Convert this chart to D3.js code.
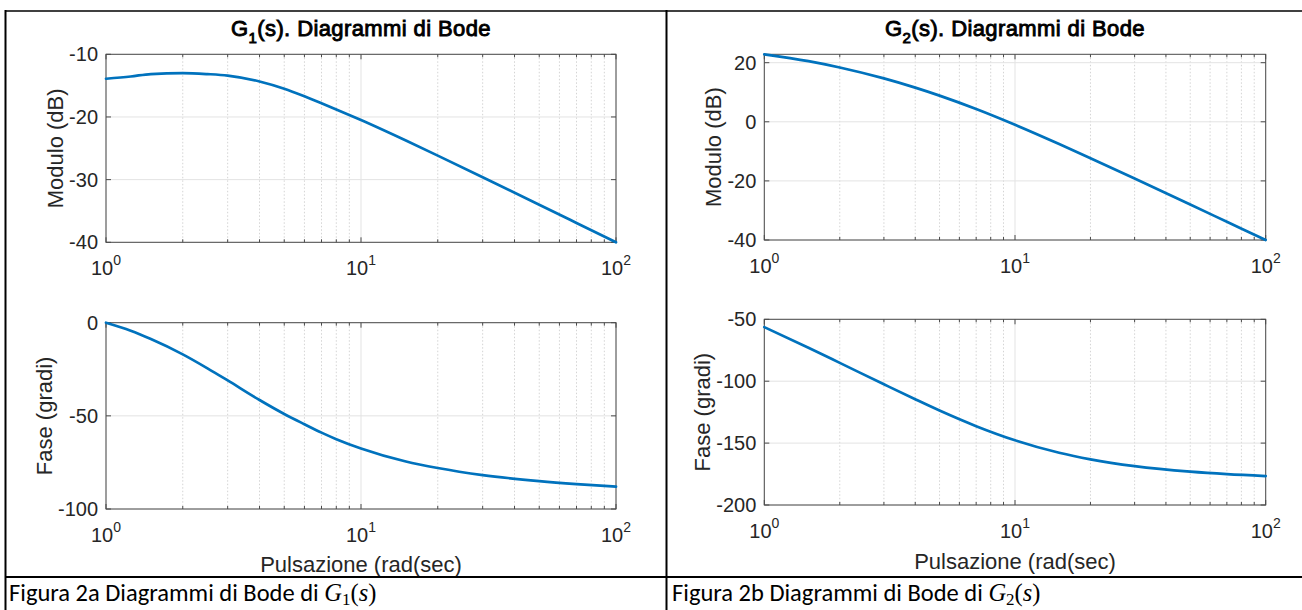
<!DOCTYPE html>
<html>
<head>
<meta charset="utf-8">
<script src="https://cdn.jsdelivr.net/npm/d3@7"></script>
<style>
  html, body { margin: 0; padding: 0; background: #ffffff; }
  svg { display: block; }
</style>
</head>
<body>
<svg id="chart" width="1302" height="610"></svg>
<script>
// ---------------- DATA ----------------
const freqG1  = [1, 1.25, 1.5, 2, 2.5, 3, 4, 5, 6, 7, 8, 10, 15, 20, 30, 50, 70, 100];
const magG1   = [-13.9, -13.54, -13.15, -13.0, -13.16, -13.4, -14.34, -15.5, -16.71, -17.82, -18.81, -20.5, -23.77, -26.17, -29.61, -34.0, -36.91, -40.0];
const phaseG1 = [0, -4.3, -8.8, -17, -24.5, -31, -41.5, -49, -54.5, -59, -62.5, -67.5, -74.5, -78, -81.8, -85, -86.6, -88];

const freqG2  = [1, 1.5, 2, 3, 4, 5, 7, 10, 15, 20, 30, 50, 70, 100];
const magG2   = [22.84, 20.53, 18.39, 14.69, 11.57, 8.86, 4.32, -1.01, -7.52, -12.32, -19.21, -28.0, -33.83, -40.01];
const phaseG2 = [-56.3, -73.0, -85.2, -102.5, -114.6, -123.7, -136.3, -147.7, -157.8, -163.1, -168.6, -173.1, -175.1, -176.6];

const xTickValues    = [1, 10, 100];
const xTickExponents = ["0", "1", "2"];
const magG1Ticks   = [-40, -30, -20, -10];
const phaseG1Ticks = [-100, -50, 0];
const magG2Ticks   = [-40, -20, 0, 20];
const phaseG2Ticks = [-200, -150, -100, -50];

const titleNames  = ["G", "G"];
const titleSubs   = ["1", "2"];
const titleRest   = "(s). Diagrammi di Bode";
const yLabelMag   = "Modulo (dB)";
const yLabelPhase = "Fase (gradi)";
const xLabelText  = "Pulsazione (rad(sec)";
const captionText = ["Figura 2a Diagrammi di Bode di ", "Figura 2b Diagrammi di Bode di "];

// ---------------- DRAWING ----------------
const svg = d3.select("#chart");
svg.append("rect").attr("width", 1302).attr("height", 610).attr("fill", "#fff");

const FONT = "'Liberation Sans', Arial, Helvetica, sans-serif";
const TXT = "#262626";
const BLUE = "#0072BD";

const panels = [
  {
    cx0: 106, cx1: 616, titleY: 36,
    freq: freqG1, mag: magG1, phase: phaseG1,
    magDomain: [-40, -10], magTicks: magG1Ticks, magTop: 54.3, magBot: 242.3,
    phDomain: [-100, 0], phTicks: phaseG1Ticks, phTop: 322.7, phBot: 509,
    xlabY: 572, idx: 0, capX: 9
  },
  {
    cx0: 764.3, cx1: 1265.7, titleY: 36,
    freq: freqG2, mag: magG2, phase: phaseG2,
    magDomain: [-40, 22.84], magTicks: magG2Ticks, magTop: 54.3, magBot: 240,
    phDomain: [-200, -50], phTicks: phaseG2Ticks, phTop: 319.3, phBot: 505,
    xlabY: 569, idx: 1, capX: 672
  }
];

function drawAxes(parent, x, y, top, bot, yTicks, freq, vals, ylabel, x0, x1) {
  const g = parent.append("g");
  const grid = g.append("g");
  const minors = [];
  [1, 10].forEach(d => { for (let k = 2; k <= 9; k++) minors.push(k * d); });
  grid.selectAll("line.minor").data(minors).enter().append("line")
    .attr("class", "minor")
    .attr("x1", d => x(d)).attr("x2", d => x(d))
    .attr("y1", top).attr("y2", bot)
    .attr("stroke", "#d4d4d4").attr("stroke-width", 1)
    .attr("stroke-dasharray", "1.5,2");
  grid.selectAll("line.major").data(xTickValues).enter().append("line")
    .attr("class", "major")
    .attr("x1", d => x(d)).attr("x2", d => x(d))
    .attr("y1", top).attr("y2", bot)
    .attr("stroke", "#e3e3e3").attr("stroke-width", 1);
  grid.selectAll("line.ygrid").data(yTicks).enter().append("line")
    .attr("class", "ygrid")
    .attr("x1", x0).attr("x2", x1)
    .attr("y1", d => y(d)).attr("y2", d => y(d))
    .attr("stroke", "#e3e3e3").attr("stroke-width", 1);

  g.append("rect").attr("x", x0).attr("y", top)
    .attr("width", x1 - x0).attr("height", bot - top)
    .attr("fill", "none").attr("stroke", "#4a4a4a").attr("stroke-width", 1);

  const tk = g.append("g").attr("stroke", "#4a4a4a").attr("stroke-width", 1);
  xTickValues.forEach(v => {
    tk.append("line").attr("x1", x(v)).attr("x2", x(v)).attr("y1", bot).attr("y2", bot - 5);
    tk.append("line").attr("x1", x(v)).attr("x2", x(v)).attr("y1", top).attr("y2", top + 5);
  });
  minors.forEach(v => {
    tk.append("line").attr("x1", x(v)).attr("x2", x(v)).attr("y1", bot).attr("y2", bot - 3);
    tk.append("line").attr("x1", x(v)).attr("x2", x(v)).attr("y1", top).attr("y2", top + 3);
  });
  yTicks.forEach(v => {
    tk.append("line").attr("x1", x0).attr("x2", x0 + 5).attr("y1", y(v)).attr("y2", y(v));
    tk.append("line").attr("x1", x1).attr("x2", x1 - 5).attr("y1", y(v)).attr("y2", y(v));
  });

  const ylabs = g.append("g").selectAll("text").data(yTicks).enter().append("text")
    .attr("x", x0 - 8).attr("y", d => y(d) + 7)
    .attr("text-anchor", "end")
    .attr("font-family", FONT).attr("font-size", 20).attr("fill", TXT)
    .text(d => String(d));
  let minX = x0 - 8;
  ylabs.each(function () { const b = this.getBBox(); minX = Math.min(minX, b.x); });

  xTickValues.forEach((v, i) => {
    const t = g.append("text")
      .attr("x", x(v)).attr("y", bot + 33)
      .attr("text-anchor", "middle")
      .attr("font-family", FONT).attr("font-size", 20).attr("fill", TXT);
    t.append("tspan").text("10");
    t.append("tspan").attr("dy", -10).attr("font-size", 14).text(xTickExponents[i]);
  });

  const cy = (top + bot) / 2;
  g.append("text")
    .attr("transform", `translate(${minX - 6},${cy}) rotate(-90)`)
    .attr("text-anchor", "middle")
    .attr("font-family", FONT).attr("font-size", 22).attr("fill", TXT)
    .text(ylabel);

  const pts = freq.map((f, i) => [f, vals[i]]);
  g.append("path").datum(pts)
    .attr("fill", "none").attr("stroke", BLUE).attr("stroke-width", 2.7)
    .attr("stroke-linejoin", "round").attr("stroke-linecap", "round")
    .attr("d", d3.line().x(d => x(d[0])).y(d => y(d[1])).curve(d3.curveMonotoneX));
}

panels.forEach(p => {
  const g = svg.append("g");
  const x = d3.scaleLog().domain([1, 100]).range([p.cx0, p.cx1]);
  const yMag = d3.scaleLinear().domain(p.magDomain).range([p.magBot, p.magTop]);
  const yPh  = d3.scaleLinear().domain(p.phDomain).range([p.phBot, p.phTop]);

  drawAxes(g, x, yMag, p.magTop, p.magBot, p.magTicks, p.freq, p.mag, yLabelMag, p.cx0, p.cx1);
  drawAxes(g, x, yPh, p.phTop, p.phBot, p.phTicks, p.freq, p.phase, yLabelPhase, p.cx0, p.cx1);

  const cxm = (p.cx0 + p.cx1) / 2;
  const t = g.append("text").attr("x", cxm).attr("y", p.titleY)
    .attr("text-anchor", "middle")
    .attr("font-family", FONT).attr("font-size", 22)
    .attr("fill", "#000").attr("stroke", "#000").attr("stroke-width", 0.9)
    .attr("letter-spacing", 0.4);
  t.append("tspan").text(titleNames[p.idx]);
  t.append("tspan").attr("dy", 7).attr("font-size", 15).text(titleSubs[p.idx]);
  t.append("tspan").attr("dy", -7).text(titleRest);

  g.append("text").attr("x", cxm).attr("y", p.xlabY)
    .attr("text-anchor", "middle")
    .attr("font-family", FONT).attr("font-size", 22).attr("fill", TXT)
    .text(xLabelText);

  const SERIF = "'Liberation Serif', 'DejaVu Serif', serif";
  const c = svg.append("text").attr("x", p.capX).attr("y", 601)
    .attr("font-family", "Carlito, Calibri, Lato, 'Open Sans', sans-serif")
    .attr("font-size", 24.5).attr("fill", "#000");
  c.append("tspan").text(captionText[p.idx]);
  c.append("tspan").attr("font-family", SERIF).attr("font-style", "italic").text(titleNames[p.idx]);
  c.append("tspan").attr("font-family", SERIF).attr("font-size", 17).attr("dy", 4).text(titleSubs[p.idx]);
  c.append("tspan").attr("font-family", SERIF).attr("dy", -4).text("(");
  c.append("tspan").attr("font-family", SERIF).attr("font-style", "italic").text("s");
  c.append("tspan").attr("font-family", SERIF).text(")");
});

// table borders
const borders = svg.append("g").attr("stroke", "#000");
borders.append("line").attr("x1", 5).attr("x2", 1302).attr("y1", 11).attr("y2", 11).attr("stroke-width", 1.5);
borders.append("line").attr("x1", 5.5).attr("x2", 5.5).attr("y1", 10).attr("y2", 610).attr("stroke-width", 2);
borders.append("line").attr("x1", 666.5).attr("x2", 666.5).attr("y1", 10).attr("y2", 610).attr("stroke-width", 2);
borders.append("line").attr("x1", 5).attr("x2", 1302).attr("y1", 577).attr("y2", 577).attr("stroke-width", 2);
</script>
</body>
</html>
